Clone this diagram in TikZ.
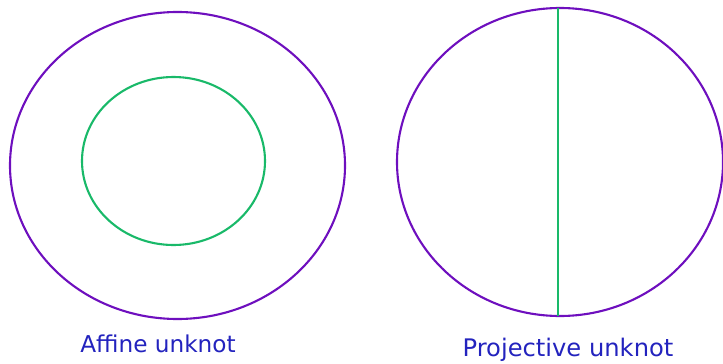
\documentclass[tikz,border=0pt]{standalone}
\usepackage{fontspec}
\setmainfont{DejaVu Sans}
\usepackage{tikz}
\usetikzlibrary{calc, positioning}

\definecolor{knotpurple}{RGB}{110,15,190}
\definecolor{knotgreen}{RGB}{25,185,105}
\definecolor{labelblue}{RGB}{35,35,190}

\tikzset{
    outerloop/.style={draw=knotpurple, line width=2.1pt},
    innerloop/.style={draw=knotgreen, line width=2.1pt},
    knotlabel/.style={text=labelblue, anchor=base, inner sep=0pt}
}

\begin{document}
\begin{tikzpicture}[x=1pt, y=-1pt]
        \useasboundingbox (0,0) rectangle (723,364);

        % centres
        \coordinate (affc) at (177.5,165.5);
        \coordinate (affin) at (173.5,161);
        \coordinate (projc) at (560,162);
        
        % affine picture
        \draw[outerloop] (affc) ellipse [x radius=167.5pt, y radius=153.5pt];
        \draw[innerloop] (affin) ellipse [x radius=91.5pt, y radius=84pt];
        
        % projective picture
        \draw[outerloop] (projc) ellipse [x radius=163pt, y radius=154pt];
        \coordinate (ptop) at (558,8.2);
        \coordinate (pbot) at (558,315.8);
        \draw[innerloop] (ptop) -- (pbot);
        
        % labels
        \node[knotlabel, font=\fontsize{23.2}{28}\selectfont] (afflabel) at (158,352) {Affine unknot};
        \node[knotlabel, font=\fontsize{24.2}{29}\selectfont] (projlabel) at (568,356) {Projective unknot};
    \end{tikzpicture}
\end{document}
